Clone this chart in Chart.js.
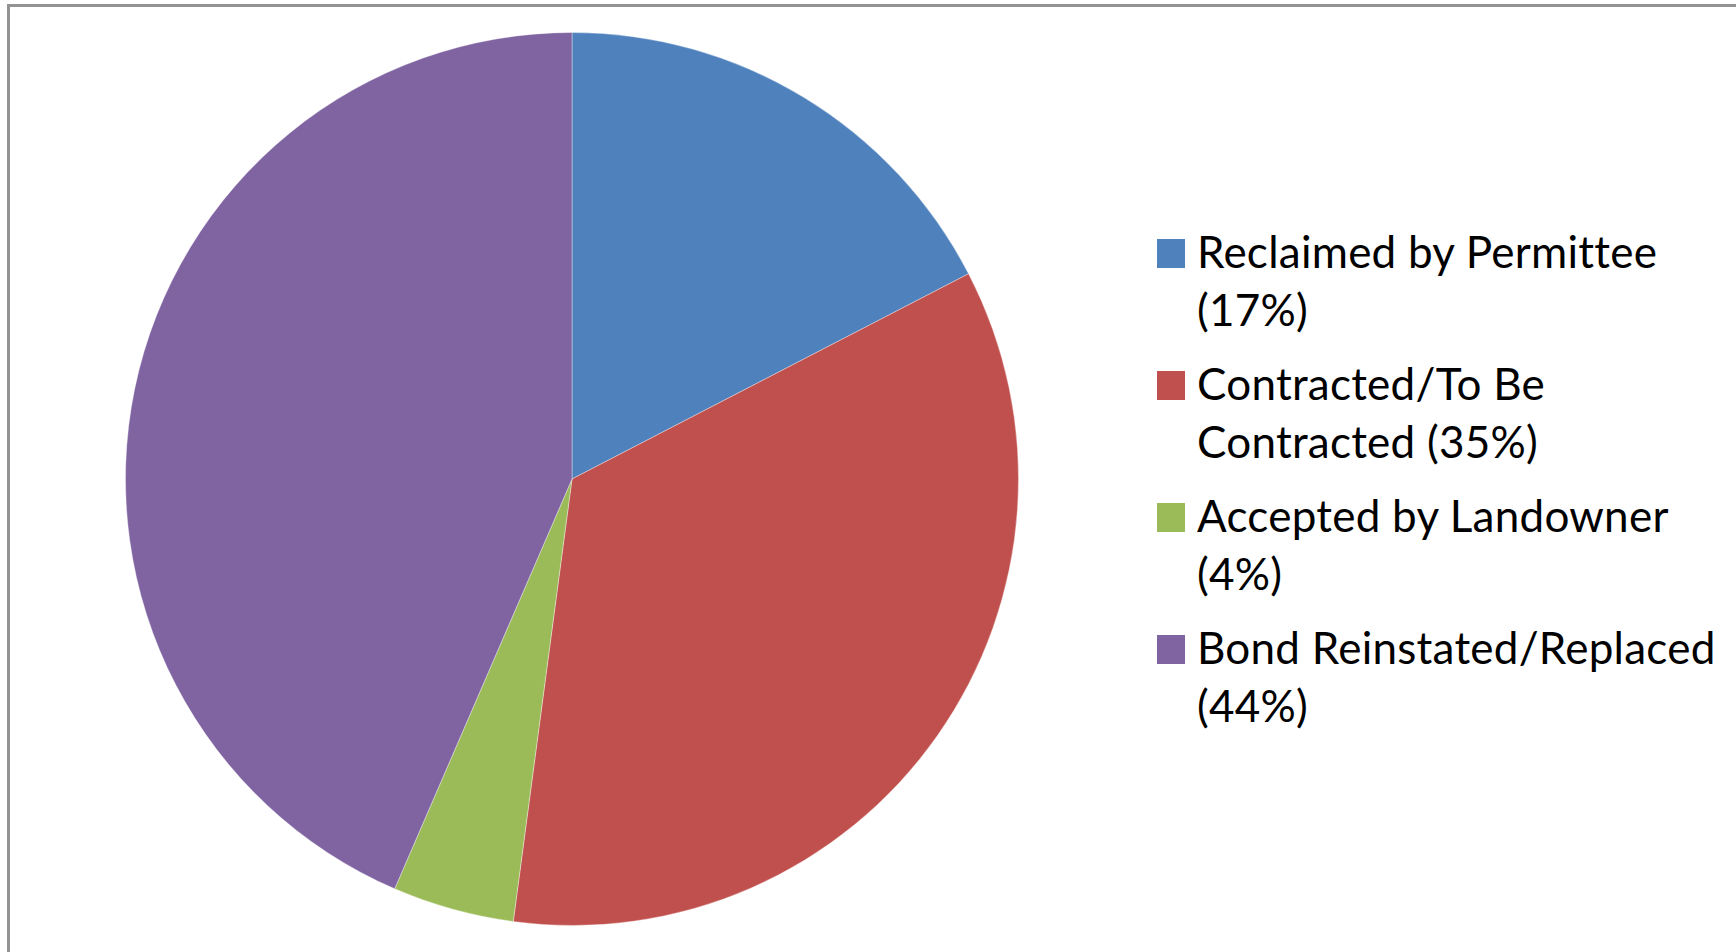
<!DOCTYPE html>
<html>
<head>
<meta charset="utf-8">
<script src="https://cdn.jsdelivr.net/npm/chart.js@4.4.1/dist/chart.umd.min.js"></script>
<style>
  html, body { margin: 0; padding: 0; background: #fff; }
  body { width: 1736px; height: 952px; position: relative; overflow: hidden; }
  #frame {
    position: absolute; left: 7px; top: 4px; width: 1760px; height: 980px;
    border-left: 3px solid #939393; border-top: 3px solid #939393;
  }
  #pieBox { position: absolute; left: 125px; top: 32px; width: 894px; height: 894px; }
  .item { position: absolute; left: 1157px; width: 575px; }
  .swatch { position: absolute; left: 0; top: 17px; width: 28px; height: 29px; }
  .label {
    position: absolute; left: 40px; top: 0; white-space: nowrap;
    font-family: Lato, "Open Sans", sans-serif; font-size: 44px; line-height: 58px;
    letter-spacing: 0.25px; color: #000;
  }
</style>
</head>
<body>
<div id="frame"></div>
<div id="pieBox"><canvas id="pieChart"></canvas></div>
<div id="legend"></div>
<script>
// Chart data
var categories = ['Reclaimed by Permittee', 'Contracted/To Be Contracted', 'Accepted by Landowner', 'Bond Reinstated/Replaced'];
var shares = [17.4, 34.7, 4.4, 43.5];
var legendLines = [
    ['Reclaimed by Permittee', '(17%)'],
    ['Contracted/To Be', 'Contracted (35%)'],
    ['Accepted by Landowner', '(4%)'],
    ['Bond Reinstated/Replaced', '(44%)']
];
var colors = ['#4F81BD', '#C0504D', '#9BBB59', '#8064A2'];

// Legend built from the same arrays
var legend = document.getElementById('legend');
legendLines.forEach(function(lines, i) {
    var item = document.createElement('div');
    item.className = 'item';
    item.style.top = (222 + i * 132) + 'px';
    item.innerHTML = '<div class="swatch" style="background:' + colors[i] + '"></div>' +
        '<div class="label">' + lines.join('<br>') + '</div>';
    legend.appendChild(item);
});

// Render pie
var ctx = document.getElementById('pieChart').getContext('2d');
new Chart(ctx, {
    type: 'pie',
    data: {
        labels: categories,
        datasets: [{
            data: shares,
            backgroundColor: colors,
            borderColor: 'rgba(255,255,255,0.35)',
            borderWidth: 1,
            hoverOffset: 0
        }]
    },
    options: {
        responsive: true,
        maintainAspectRatio: false,
        animation: false,
        layout: { padding: 0 },
        plugins: {
            legend: { display: false },
            tooltip: { enabled: false }
        }
    }
});
</script>
</body>
</html>
